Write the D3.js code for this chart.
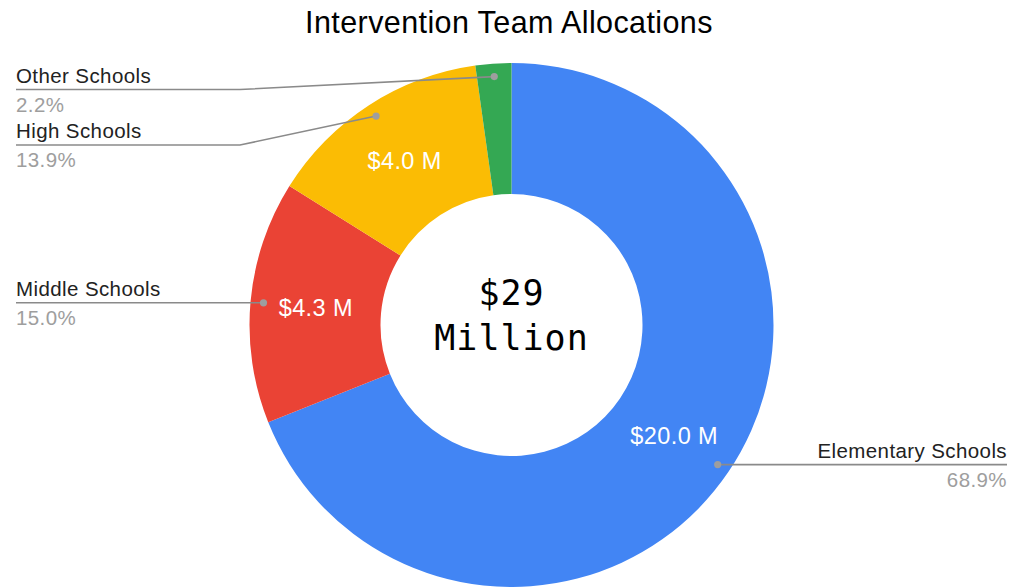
<!DOCTYPE html>
<html>
<head>
<meta charset="utf-8">
<script src="https://cdn.jsdelivr.net/npm/d3@7"></script>
<style>
  body { margin: 0; background: #fff; }
  text { font-family: "Liberation Sans", Arial, sans-serif; }
</style>
</head>
<body>
<div id="chart"></div>
<script>
// Data
var categories = ["Elementary Schools", "Middle Schools", "High Schools", "Other Schools"];
var amounts = [20.0, 4.34, 4.03, 0.64];   // $ millions
var colors = ["#4285f4", "#ea4335", "#fbbc04", "#34a853"];
var chartTitle = "Intervention Team Allocations";
var centerLines = ["$29", "Million"];

// svg size
var svgWidth = 1022;
var svgHeight = 587;

var cx = 511.5, cy = 325;
var outerR = 262, innerR = 131;

var svg = d3.select("#chart")
  .append("svg")
  .attr("width", svgWidth)
  .attr("height", svgHeight);

// title
svg.append("text")
  .attr("x", 509)
  .attr("y", 33)
  .attr("text-anchor", "middle")
  .attr("font-size", "30.5px")
  .attr("letter-spacing", "0.4px")
  .attr("fill", "#000")
  .text(chartTitle);

var data = categories.map(function(c, i) {
  return { name: c, value: amounts[i], color: colors[i] };
});
var total = d3.sum(amounts);

var pie = d3.pie().sort(null).value(d => d.value);
var arcs = pie(data);

var arc = d3.arc().innerRadius(innerR).outerRadius(outerR);

var chartGroup = svg.append("g")
  .attr("transform", `translate(${cx}, ${cy})`);

chartGroup.selectAll("path")
  .data(arcs)
  .enter()
  .append("path")
  .attr("d", arc)
  .attr("fill", d => d.data.color);

// value labels inside slices (skip tiny ones)
var fmtM = d3.format(".1f");
chartGroup.selectAll(".val")
  .data(arcs.filter(d => d.value / total > 0.05))
  .enter()
  .append("text")
  .attr("class", "val")
  .attr("transform", d => `translate(${arc.centroid(d)})`)
  .attr("dy", "0.36em")
  .attr("text-anchor", "middle")
  .attr("font-size", "23.5px")
  .attr("letter-spacing", "0.4px")
  .attr("fill", "#fff")
  .text(d => "$" + fmtM(d.value) + " M");

// center text
svg.append("text")
  .attr("x", cx)
  .attr("y", 305)
  .attr("text-anchor", "middle")
  .attr("font-size", "35px")
  .attr("letter-spacing", "1px")
  .style("font-family", "'DejaVu Sans Mono', 'Liberation Mono', monospace")
  .attr("fill", "#000")
  .selectAll("tspan")
  .data(centerLines)
  .enter()
  .append("tspan")
  .attr("x", cx)
  .attr("dy", (d, i) => i === 0 ? 0 : 45)
  .text(d => d);

// leader label layout
var dotR = 249;
var labelGap = 55.5;
var minY = cy - outerR + 26.5;
var kneeX = outerR + 9.5;
var leftEdge = 16, rightEdge = 1007;

arcs.forEach(function(d) {
  var a = (d.startAngle + d.endAngle) / 2;
  d.mid = a;
  d.dot = [Math.sin(a) * dotR, -Math.cos(a) * dotR];
  d.side = Math.sin(a) < 0 ? "left" : "right";
});

["left", "right"].forEach(function(side) {
  var group = arcs.filter(d => d.side === side)
    .sort((a, b) => a.dot[1] - b.dot[1]);
  var prev = -Infinity;
  group.forEach(function(d) {
    var y = cy + d.dot[1];
    y = Math.max(y, minY, prev + labelGap);
    d.labelY = y;
    prev = y;
  });
});

var pct = d3.format(".1%");
var leaders = svg.append("g");

arcs.forEach(function(d) {
  var dx = cx + d.dot[0], dy = cy + d.dot[1];
  var left = d.side === "left";
  var kx = left ? cx - kneeX : cx + kneeX;
  var endX = left ? leftEdge : rightEdge;
  var pts = [[dx, dy]];
  if (Math.abs(d.labelY - dy) > 0.5) pts.push([kx, d.labelY]);
  pts.push([endX, d.labelY]);

  leaders.append("path")
    .attr("d", d3.line()(pts))
    .attr("fill", "none")
    .attr("stroke", "#8a8a8a")
    .attr("stroke-width", 1.6);

  leaders.append("circle")
    .attr("cx", dx)
    .attr("cy", dy)
    .attr("r", 3.6)
    .attr("fill", "#9e9e9e");

  leaders.append("text")
    .attr("x", endX)
    .attr("y", d.labelY - 7)
    .attr("text-anchor", left ? "start" : "end")
    .attr("font-size", "20.5px")
    .attr("letter-spacing", "0.4px")
    .attr("fill", "#222")
    .text(d.data.name);

  leaders.append("text")
    .attr("x", endX)
    .attr("y", d.labelY + 22)
    .attr("text-anchor", left ? "start" : "end")
    .attr("font-size", "20.5px")
    .attr("letter-spacing", "0.4px")
    .attr("fill", "#9e9e9e")
    .text(pct(d.value / total));
});
</script>
</body>
</html>
